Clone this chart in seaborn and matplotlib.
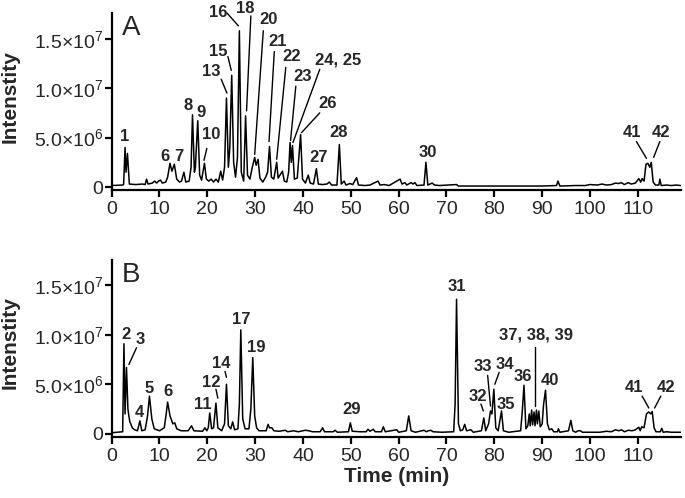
import numpy as np
import pandas as pd
import seaborn as sns
import matplotlib.pyplot as plt

# chromatogram traces (time in min, intensity in units of 1e6)
time_a = [0, 2.3, 2.5, 2.8, 3.0, 3.3, 3.7, 5.0, 6.5, 7.0, 7.3, 7.6, 8.5, 9.0, 9.4, 9.8, 10.2, 10.6, 11.3,
          11.7, 12.2, 12.6, 13.1, 13.6, 14.2, 14.6, 15.1, 15.5, 16.2, 16.6, 16.9, 17.3, 17.5, 18.0, 18.4,
          18.8, 19.4, 19.8, 20.3, 20.8, 21.3, 21.8, 22.3, 22.8, 23.2, 23.6, 24.0, 24.4, 24.7, 25.1, 25.5,
          25.9, 26.3, 26.7, 27.1, 27.6, 28.0, 28.4, 28.9, 29.4, 29.9, 30.2, 30.6, 31.0, 31.6, 32.2, 32.6,
          33.0, 33.4, 33.9, 34.5, 34.8, 35.3, 35.7, 36.1, 36.6, 37.0, 37.3, 37.55, 37.8, 38.2, 38.8, 39.5,
          39.9, 40.5, 41.1, 41.5, 42.2, 42.8, 43.2, 44.0, 45.0, 45.5, 46.0, 47.1, 47.6, 48.0, 48.6, 49.0,
          49.8, 50.4, 51.2, 51.6, 53.0, 54.0, 55.7, 56.1, 57.0, 58.0, 60.3, 60.7, 61.3, 61.7, 62.6, 63.0,
          63.4, 63.8, 65.3, 65.7, 66.1, 67.0, 67.5, 68.5, 72.1, 72.5, 80.0, 90.0, 93.0, 93.3, 93.7, 97.0,
          99.0, 100.0, 101.5, 102.5, 103.5, 104.5, 105.3, 106.0, 106.5, 107.2, 108.0, 108.6, 109.5, 110.2,
          110.6, 110.9, 111.3, 111.7, 112.1, 112.5, 112.8, 113.2, 113.7, 114.4, 114.6, 114.9, 116.0, 117.0,
          118.0, 119.0]
signal_a = [0.15, 0.2, 0.25, 4.0, 1.5, 3.4, 0.3, 0.25, 0.3, 0.25, 0.8, 0.3, 0.4, 0.6, 0.4, 0.6, 0.7, 0.4, 0.5,
            1.0, 2.4, 1.6, 2.3, 0.8, 0.5, 0.6, 1.5, 0.5, 0.6, 2.0, 7.3, 1.5, 2.0, 6.7, 1.2,
            0.7, 2.4, 0.8, 0.6, 0.8, 0.5, 0.8, 0.5, 1.6, 0.7, 2.0, 9.0, 2.0, 4.0, 11.3, 2.5,
            1.0, 3.0, 15.8, 1.5, 0.6, 7.2, 1.2, 0.8, 2.0, 3.0, 2.2, 2.8, 0.9, 0.5, 1.0, 1.5,
            4.1, 1.0, 0.8, 2.5, 0.9, 1.3, 1.6, 0.6, 0.5, 1.5, 4.5, 2.5, 4.2, 0.8, 0.9, 5.3,
            0.8, 0.4, 1.2, 0.4, 0.3, 1.85, 0.3, 0.25, 0.3, 0.5, 0.2, 0.2, 4.3, 0.3, 0.6, 0.2,
            0.35, 0.25, 0.95, 0.2, 0.15, 0.2, 0.6, 0.2, 0.25, 0.15, 0.8, 0.3, 0.45, 0.2, 0.45, 0.3,
            0.45, 0.15, 0.2, 2.5, 0.2, 0.4, 0.2, 0.15, 0.25, 0.1, 0.1, 0.1, 0.15, 0.6, 0.1, 0.15,
            0.15, 0.25, 0.2, 0.3, 0.2, 0.25, 0.4, 0.35, 0.45, 0.25, 0.45, 0.3, 0.4, 0.85,
            0.5, 0.85, 0.6, 2.3, 2.4, 2.0, 2.5, 0.5, 0.2, 0.2, 0.8, 0.15, 0.2, 0.15,
            0.2, 0.15]

time_b = [0, 2.3, 2.57, 2.8, 3.1, 3.4, 3.6, 3.8, 4.0, 4.3, 4.8, 5.4, 5.9, 6.3, 7.0, 7.5, 7.9, 8.4, 8.9,
          10.0, 11.0, 11.4, 11.7, 12.2, 12.8, 13.2, 13.6, 14.5, 16.0, 16.7, 17.2, 19.0, 19.5, 19.9, 20.2,
          20.5, 20.9, 21.3, 21.8, 22.2, 23.0, 23.6, 24.0, 24.4, 24.9, 25.3, 25.7, 26.4, 26.7, 27.0, 27.4,
          27.9, 28.7, 29.1, 29.5, 29.9, 30.3, 30.8, 32.3, 32.7, 33.0, 33.5, 33.9, 35.0, 36.3, 36.8, 38.0,
          39.0, 40.5, 41.2, 42.0, 43.6, 44.1, 44.5, 46.3, 46.7, 47.2, 49.5, 49.9, 50.3, 52.0, 53.2, 53.6,
          54.0, 54.7, 55.1, 56.4, 56.8, 57.2, 59.6, 60.0, 61.6, 62.1, 62.6, 63.5, 65.3, 65.8, 66.2, 66.7,
          67.2, 69.0, 71.5, 71.8, 72.1, 72.5, 72.9, 73.4, 73.8, 74.2, 75.1, 75.6, 77.3, 77.8, 78.2, 78.8,
          79.2, 79.5, 79.9, 80.3, 80.8, 81.5, 81.9, 83.0, 85.5, 85.8, 86.2, 86.6, 87.0, 87.3, 87.5, 87.8,
          88.0, 88.3, 88.5, 88.8, 89.0, 89.3, 89.6, 90.0, 90.3, 90.7, 91.1, 91.5, 92.0, 92.4, 93.2, 93.4,
          93.7, 95.5, 96.0, 96.4, 97.0, 97.5, 98.0, 98.4, 100.0, 102.0, 103.5, 104.5, 105.3, 106.0, 106.6,
          107.2, 108.0, 108.8, 109.5, 110.2, 110.5, 110.8, 111.3, 111.8, 112.3, 112.7, 113.0, 113.4, 113.8,
          114.7, 115.0, 115.3, 116.0, 117.0, 118.0, 119.0]
signal_b = [0.1, 0.2, 9.1, 2.0, 6.7, 2.5, 1.8, 1.2, 1.0, 0.6, 0.4, 0.3, 1.3, 0.3, 0.4, 1.8, 3.8, 1.5, 0.5,
            0.3, 0.6, 2.0, 3.2, 1.8, 1.0, 1.1, 0.5, 0.3, 0.3, 0.8, 0.3, 0.25, 0.6, 0.3, 0.6,
            2.1, 0.5, 0.6, 3.1, 0.6, 0.3, 1.0, 5.0, 0.8, 0.5, 1.2, 0.4, 0.5, 3.0, 10.5, 1.5,
            0.5, 0.5, 2.5, 7.7, 1.8, 0.6, 0.3, 0.3, 0.95, 0.6, 0.6, 0.3, 0.25, 0.35, 0.2, 0.3,
            0.2, 0.35, 0.3, 0.2, 0.2, 0.6, 0.2, 0.2, 0.35, 0.15, 0.2, 1.1, 0.25, 0.2, 0.2, 0.45,
            0.25, 0.45, 0.2, 0.2, 0.7, 0.2, 0.4, 0.15, 0.3, 1.8, 0.3, 0.15, 0.35, 0.2, 0.3, 0.35,
            0.2, 0.15, 0.2, 3.0, 13.6, 1.0, 0.3, 0.4, 0.95, 0.3, 0.4, 0.15, 0.3, 1.6, 0.3, 1.0,
            2.3, 2.0, 4.5, 0.6, 0.3, 2.3, 0.3, 0.15, 0.3, 2.0, 4.9, 0.5, 0.8, 2.0, 0.8, 2.4,
            0.9, 2.2, 0.8, 2.4, 1.0, 2.3, 0.7, 1.0, 3.0, 4.4, 1.0, 0.4, 0.5, 0.2, 0.2, 0.5,
            0.15, 0.3, 1.35, 0.3, 0.15, 0.3, 0.3, 0.15, 0.15, 0.15, 0.25, 0.2, 0.4, 0.3, 0.4,
            0.2, 0.35, 0.3, 0.4, 0.65, 0.3, 0.7, 0.6, 2.0, 2.2, 2.0, 2.25, 0.6, 0.2,
            0.2, 0.55, 0.15, 0.2, 0.15, 0.15, 0.15]

# peak labels: text, label position (min, 1e6), optional leader line (x0, y0, x1, y1)
labels_a = [
    ("1", 2.8, 5.15, None), ("6", 11.1, 3.13, None), ("7", 14.1, 3.13, None),
    ("8", 16.0, 8.2, None), ("9", 18.7, 7.5, None),
    ("10", 20.9, 5.3, (19.9, 3.9, 19.3, 2.7)),
    ("13", 20.9, 11.7, (22.9, 10.9, 24.1, 9.5)),
    ("15", 22.3, 13.7, (24.3, 13.2, 25.0, 11.8)),
    ("16", 22.2, 17.6, (24.1, 17.6, 26.5, 16.3)),
    ("18", 27.9, 18.1, (29.1, 17.3, 28.2, 7.7)),
    ("20", 32.7, 16.9, (31.7, 15.8, 29.9, 3.3)),
    ("21", 34.8, 14.7, (34.0, 13.7, 32.9, 4.6)),
    ("22", 37.6, 13.2, (36.4, 12.1, 34.5, 2.8)),
    ("23", 40.0, 11.2, (38.5, 10.2, 37.4, 4.7)),
    ("24, 25", 47.4, 12.8, (43.5, 11.9, 37.9, 4.5)),
    ("26", 45.1, 8.4, (43.5, 7.5, 39.7, 5.5)),
    ("27", 43.2, 3.0, None), ("28", 47.4, 5.5, None), ("30", 66.0, 3.5, None),
    ("41", 108.7, 5.5, (109.7, 4.6, 111.8, 2.9)),
    ("42", 114.9, 5.5, (114.6, 4.6, 113.3, 3.0)),
]
labels_b = [
    ("2", 2.9, 10.0, None),
    ("3", 5.9, 9.5, (5.2, 8.7, 3.6, 7.0)),
    ("4", 5.8, 2.1, None), ("5", 7.9, 4.6, None), ("6", 11.8, 4.3, None),
    ("11", 19.0, 3.0, None),
    ("12", 20.9, 5.15, (21.8, 4.5, 22.2, 3.6)),
    ("14", 23.0, 7.1, (23.7, 6.3, 24.0, 5.7)),
    ("17", 27.0, 11.6, None), ("19", 30.3, 8.7, None), ("29", 50.2, 2.4, None),
    ("31", 72.1, 14.9, None),
    ("32", 76.6, 3.8, (77.2, 3.0, 77.7, 2.3)),
    ("33", 77.7, 6.8, (78.6, 5.9, 79.2, 2.8)),
    ("34", 82.3, 7.0, (81.0, 6.2, 80.1, 5.0)),
    ("35", 82.5, 3.0, None), ("36", 86.0, 5.8, None),
    ("37, 38, 39", 88.8, 10.0, (88.6, 8.8, 88.6, 2.8)),
    ("40", 91.6, 5.4, None),
    ("41", 109.2, 4.65, (110.9, 3.8, 112.3, 2.6)),
    ("42", 115.8, 4.65, (114.8, 3.8, 113.5, 2.6)),
]

x_ticks = list(range(0, 120, 10))
y_ticks = [0, 5e6, 1e7, 1.5e7]
y_ticklabels = ["0", "5.0×10$^{6}$", "1.0×10$^{7}$", "1.5×10$^{7}$"]

sns.set_theme(style="ticks")
plt.rcParams['font.family'] = ['Liberation Sans', 'DejaVu Sans']
plt.rcParams['mathtext.fontset'] = 'custom'
plt.rcParams['mathtext.rm'] = 'Liberation Sans'
plt.rcParams['mathtext.default'] = 'regular'

fig = plt.figure(figsize=(6.85, 4.98), dpi=100)
ax_a = fig.add_axes([0.163, 0.6185, 0.831, 0.3554])
ax_b = fig.add_axes([0.163, 0.1231, 0.831, 0.3554])

panels = [(ax_a, time_a, signal_a, labels_a, "A"), (ax_b, time_b, signal_b, labels_b, "B")]
for ax, t, s, labels, letter in panels:
    df = pd.DataFrame({"time": t, "intensity": np.array(s) * 1e6})
    sns.lineplot(data=df, x="time", y="intensity", ax=ax, color="black", lw=1.1, estimator=None)
    ax.set_xlim(0, 119)
    ax.set_ylim(-0.3e6, 17.6e6)
    ax.set_xticks(x_ticks)
    ax.set_yticks(y_ticks)
    ax.set_yticklabels(y_ticklabels)
    ax.tick_params(axis="both", labelsize=14, width=1.6, length=5, color="black")
    ax.tick_params(axis="y", pad=1)
    ax.tick_params(axis="x", pad=3)
    for side in ["left", "bottom"]:
        ax.spines[side].set_linewidth(1.6)
        ax.spines[side].set_color("black")
    sns.despine(ax=ax)
    ax.set_ylabel("Intenstity", fontsize=15, fontweight="bold")
    ax.yaxis.label.set_va("center")
    ax.yaxis.set_label_coords(-0.179, 0.53)
    ax.set_xlabel("")
    ax.text(4.0, 16.1e6, letter, fontsize=20, ha="center", va="center")
    for text, lx, ly, leader in labels:
        ax.text(lx, ly * 1e6, text, fontsize=12, fontweight="bold", ha="center", va="center",
                clip_on=False)
        if leader is not None:
            ax.plot([leader[0], leader[2]], [leader[1] * 1e6, leader[3] * 1e6],
                    color="black", lw=1.0, clip_on=False)

ax_b.set_xlabel("Time (min)", fontsize=15, fontweight="bold")
ax_b.xaxis.set_label_coords(0.5, -0.225)
ax_b.xaxis.label.set_va("center")

fig.savefig("out.png", dpi=100)
